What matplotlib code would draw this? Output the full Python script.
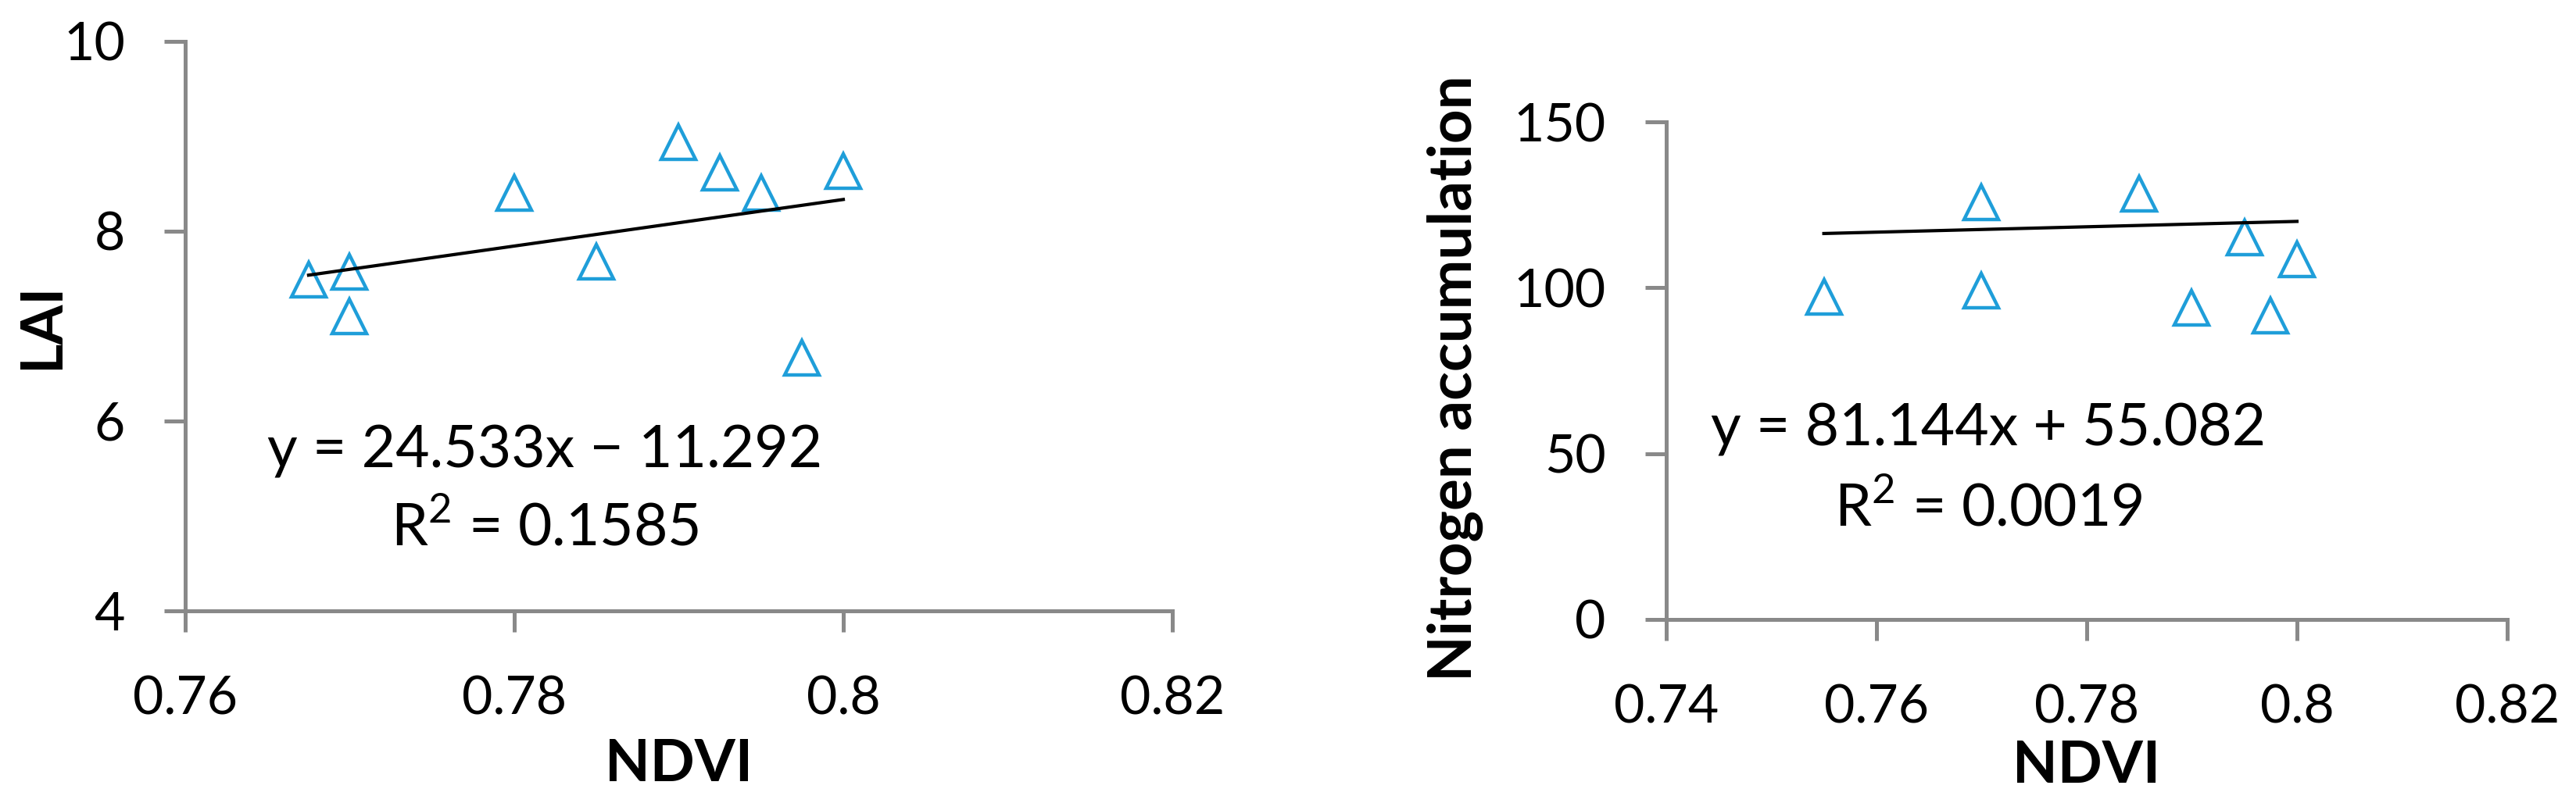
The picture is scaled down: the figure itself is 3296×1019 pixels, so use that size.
import numpy as np
import matplotlib
matplotlib.use('Agg')
import matplotlib.pyplot as plt
from matplotlib.ticker import MultipleLocator, FormatStrFormatter

plt.rcParams['font.family'] = ['Lato', 'DejaVu Sans']
plt.rcParams['mathtext.fontset'] = 'custom'
plt.rcParams['mathtext.rm'] = 'Lato'

# LAI against NDVI
ndvi_lai = [0.7675, 0.77, 0.77, 0.78, 0.785, 0.79, 0.7925, 0.795, 0.7975, 0.80]
lai = [7.49, 7.57, 7.10, 8.40, 7.68, 8.94, 8.62, 8.40, 6.67, 8.63]
lai_slope, lai_icpt, lai_r2 = 24.533, -11.292, 0.1585

# nitrogen accumulation against NDVI
ndvi_n = [0.755, 0.77, 0.77, 0.785, 0.79, 0.795, 0.7975, 0.80]
nitrogen = [97.2, 99.2, 125.8, 128.3, 93.9, 115.1, 91.6, 108.6]
n_slope, n_icpt, n_r2 = 81.144, 55.082, 0.0019

grey = '#898989'
blue = '#1F9ED9'
narrow = ['Liberation Sans Narrow', 'Lato']


def style(ax):
    for s in ['top', 'right']:
        ax.spines[s].set_visible(False)
    for s in ['left', 'bottom']:
        ax.spines[s].set_color(grey)
        ax.spines[s].set_linewidth(3.6)
    ax.tick_params(direction='out', length=19.5, width=3.6, color=grey,
                   labelsize=49, labelcolor='black')
    ax.tick_params(axis='x', pad=40)
    ax.tick_params(axis='y', pad=36)
    ax.xaxis.set_major_formatter(FormatStrFormatter('%g'))
    ax.yaxis.set_major_formatter(FormatStrFormatter('%g'))


def eq_text(slope, icpt):
    sign = '+' if icpt >= 0 else '\u2212'
    return 'y = %.3fx %s %.3f' % (slope, sign, abs(icpt))


fig = plt.figure(figsize=(32.96, 10.19), dpi=100)

# left panel
ax = fig.add_axes([0.0719, 0.2326, 0.3832, 0.7154])
ax.plot(ndvi_lai, lai, ls='none', marker='^', ms=32, mfc='none', mec=blue, mew=3.2)
xs = np.array([min(ndvi_lai), max(ndvi_lai)])
ax.plot(xs, lai_slope * xs + lai_icpt, color='black', lw=3)
ax.set_xlim(0.76, 0.82)
ax.set_ylim(4, 10)
ax.xaxis.set_major_locator(MultipleLocator(0.02))
ax.yaxis.set_major_locator(MultipleLocator(2))
style(ax)
ax.set_xlabel('NDVI', fontsize=54, fontweight='bold')
ax.set_ylabel('LAI', fontsize=53, fontweight='bold', family=narrow)
ax.xaxis.set_label_coords(0.5, -0.222)
ax.yaxis.set_label_coords(-0.1176, 0.5)
ax.text(0.364, 0.252, eq_text(lai_slope, lai_icpt), transform=ax.transAxes,
        ha='center', va='baseline', fontsize=54)
ax.text(0.364, 0.115, 'R$^{\\mathregular{2}}$ = %.4f' % lai_r2, transform=ax.transAxes,
        ha='center', va='baseline', fontsize=54)

# right panel
ax = fig.add_axes([0.6468, 0.2218, 0.3265, 0.6251])
ax.plot(ndvi_n, nitrogen, ls='none', marker='^', ms=32, mfc='none', mec=blue, mew=3.2)
xs = np.array([min(ndvi_n), max(ndvi_n)])
ax.plot(xs, n_slope * xs + n_icpt, color='black', lw=3)
ax.set_xlim(0.74, 0.82)
ax.set_ylim(0, 150)
ax.xaxis.set_major_locator(MultipleLocator(0.02))
ax.yaxis.set_major_locator(MultipleLocator(50))
style(ax)
ax.set_xlabel('NDVI', fontsize=54, fontweight='bold')
ax.set_ylabel('Nitrogen accumulation', fontsize=55, fontweight='bold', family=narrow)
ax.xaxis.set_label_coords(0.5, -0.240)
ax.yaxis.set_label_coords(-0.2175, 0.485)
ax.text(0.383, 0.349, eq_text(n_slope, n_icpt), transform=ax.transAxes,
        ha='center', va='baseline', fontsize=54)
ax.text(0.383, 0.188, 'R$^{\\mathregular{2}}$ = %.4f' % n_r2, transform=ax.transAxes,
        ha='center', va='baseline', fontsize=54)

fig.savefig('out.png', dpi=100)
plt.close()
